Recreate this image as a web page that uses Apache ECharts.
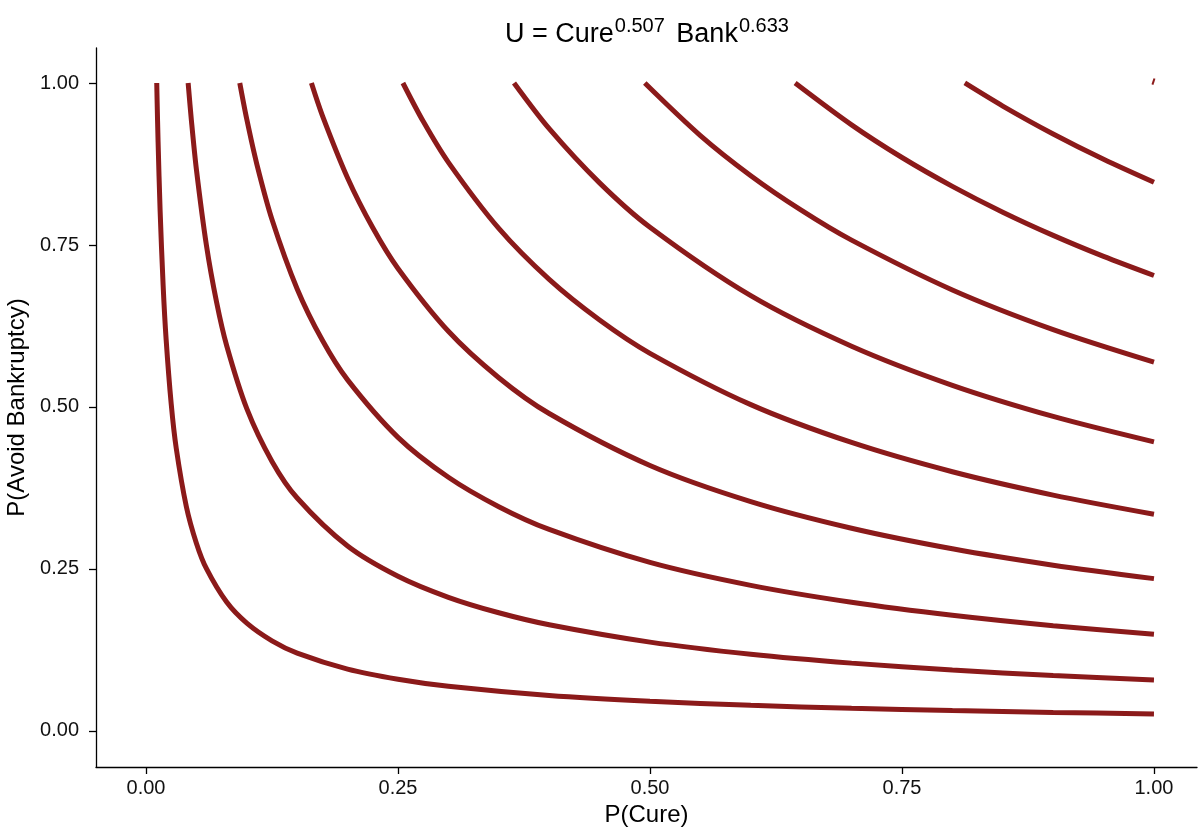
<!DOCTYPE html>
<html>
<head>
<meta charset="utf-8">
<script src="https://cdn.jsdelivr.net/npm/echarts@6/dist/echarts.min.js"></script>
<style>html,body{margin:0;padding:0;background:#fff}#c{width:1199px;height:827px}</style>
</head>
<body>
<div id="c"></div>
<script>
// Tick values
const tickValues = [0, 0.25, 0.5, 0.75, 1];

// Indifference curves (U level -> points)
const levels = ['0.1','0.2','0.3','0.4','0.5','0.6','0.7','0.8','0.9','1.0'];

const u01X = [0.01066,0.011,0.012,0.014,0.017,0.02,0.025,0.03,0.04,0.05,0.06,0.08,0.1,0.125,0.15,0.2,0.25,0.3,0.4,0.5,0.6,0.7,0.8,0.9,1.0];
const u01Y = [1.0,0.9746,0.9089,0.8034,0.6877,0.6037,0.5049,0.4363,0.3465,0.2898,0.2504,0.1989,0.1664,0.1391,0.1202,0.0955,0.0799,0.0690,0.0548,0.0458,0.0396,0.0350,0.0315,0.0286,0.0263];

const u02X = [0.04181,0.045,0.05,0.06,0.07,0.08,0.1,0.125,0.15,0.2,0.25,0.3,0.35,0.4,0.5,0.6,0.7,0.8,0.9,1.0];
const u02Y = [1.0,0.9430,0.8667,0.7489,0.6619,0.5948,0.4974,0.4160,0.3595,0.2855,0.2388,0.2063,0.1824,0.1639,0.1371,0.1184,0.1047,0.0941,0.0856,0.0787];

const u03X = [0.09303,0.1,0.11,0.125,0.15,0.175,0.2,0.25,0.3,0.35,0.4,0.5,0.6,0.7,0.8,0.9,1.0];
const u03Y = [1.0,0.9439,0.8745,0.7894,0.6822,0.6029,0.5418,0.4531,0.3915,0.3461,0.3110,0.2601,0.2247,0.1986,0.1785,0.1624,0.1493];

const u04X = [0.16412,0.175,0.2,0.225,0.25,0.3,0.35,0.4,0.5,0.6,0.7,0.8,0.9,1.0];
const u04Y = [1.0,0.9498,0.8535,0.7766,0.7138,0.6168,0.5452,0.4899,0.4097,0.3540,0.3129,0.2812,0.2559,0.2351];

const u05X = [0.25488,0.275,0.3,0.35,0.4,0.45,0.5,0.6,0.7,0.8,0.9,1.0];
const u05Y = [1.0,0.9408,0.8775,0.7756,0.6969,0.6342,0.5828,0.5036,0.4452,0.4000,0.3640,0.3345];

const u06X = [0.3651,0.4,0.45,0.5,0.6,0.7,0.8,0.9,1.0];
const u06Y = [1.0,0.9295,0.8459,0.7774,0.6718,0.5938,0.5335,0.4855,0.4462];

const u07X = [0.49485,0.55,0.6,0.65,0.7,0.8,0.9,1.0];
const u07Y = [1.0,0.9189,0.8570,0.8038,0.7575,0.6806,0.6194,0.5692];

const u08X = [0.64401,0.7,0.75,0.8,0.85,0.9,0.95,1.0];
const u08Y = [1.0,0.9354,0.8850,0.8405,0.8006,0.7648,0.7324,0.7029];

const u09X = [0.81233,0.85,0.9,0.95,1.0];
const u09Y = [1.0,0.9644,0.9213,0.8822,0.8467];

const u10X = [0.9985,1.0005];
const u10Y = [0.9975,1.007];

const curveXs = [u01X,u02X,u03X,u04X,u05X,u06X,u07X,u08X,u09X,u10X];
const curveYs = [u01Y,u02Y,u03Y,u04Y,u05Y,u06Y,u07Y,u08Y,u09Y,u10Y];

const lineColor = '#8B1A1A';
const font = '"Liberation Sans", Arial, Helvetica, sans-serif';

const series = levels.map((lv, i) => ({
  name: 'U=' + lv,
  type: 'line',
  data: curveXs[i].map((x, j) => [x, curveYs[i][j]]),
  showSymbol: false,
  symbol: 'none',
  smooth: i === 9 ? false : 0.3,
  lineStyle: { color: lineColor, width: i === 9 ? 2 : 5, cap: 'butt' },
  clip: false,
  silent: true
}));

const chart = echarts.init(document.getElementById('c'), null, { renderer: 'canvas' });
chart.setOption({
  animation: false,
  backgroundColor: '#ffffff',
  title: {
    text: '{a|U = Cure}{s|0.507}{a| Bank}{s|0.633}',
    left: 498,
    top: 11,
    textStyle: {
      fontFamily: font,
      fontWeight: 'normal',
      rich: {
        a: { fontSize: 27, fontFamily: font, fontWeight: 'normal', color: '#000', verticalAlign: 'bottom', lineHeight: 32, padding: [0, 1, 0, 2] },
        s: { fontSize: 20, fontFamily: font, fontWeight: 'normal', color: '#000', verticalAlign: 'top', lineHeight: 20, padding: [0, 2, 16, 0] }
      }
    }
  },
  grid: { left: 96, right: 2, top: 48, bottom: 60, containLabel: false, outerBoundsMode: 'none' },
  xAxis: {
    type: 'value',
    min: -0.0496,
    max: 1.0427,
    name: 'P(Cure)',
    nameLocation: 'middle',
    nameGap: 32,
    nameTextStyle: { fontFamily: font, fontSize: 24, color: '#000' },
    axisLine: { onZero: false, lineStyle: { color: '#000', width: 1.3 } },
    axisTick: { show: true, length: 7, customValues: tickValues, lineStyle: { color: '#000', width: 1.3 } },
    axisLabel: { customValues: tickValues, formatter: v => v.toFixed(2), fontFamily: font, fontSize: 20, color: '#111', margin: 11 },
    splitLine: { show: false }
  },
  yAxis: {
    type: 'value',
    min: -0.0556,
    max: 1.054,
    name: 'P(Avoid Bankruptcy)',
    nameLocation: 'middle',
    nameGap: 63,
    nameRotate: 90,
    nameTextStyle: { fontFamily: font, fontSize: 24, color: '#000' },
    axisLine: { show: true, onZero: false, lineStyle: { color: '#000', width: 1.3 } },
    axisTick: { show: true, length: 7, customValues: tickValues, lineStyle: { color: '#000', width: 1.3 } },
    axisLabel: { customValues: tickValues, formatter: v => v.toFixed(2), fontFamily: font, fontSize: 20, color: '#111', margin: 17 },
    splitLine: { show: false }
  },
  series: series
});
</script>
</body>
</html>
